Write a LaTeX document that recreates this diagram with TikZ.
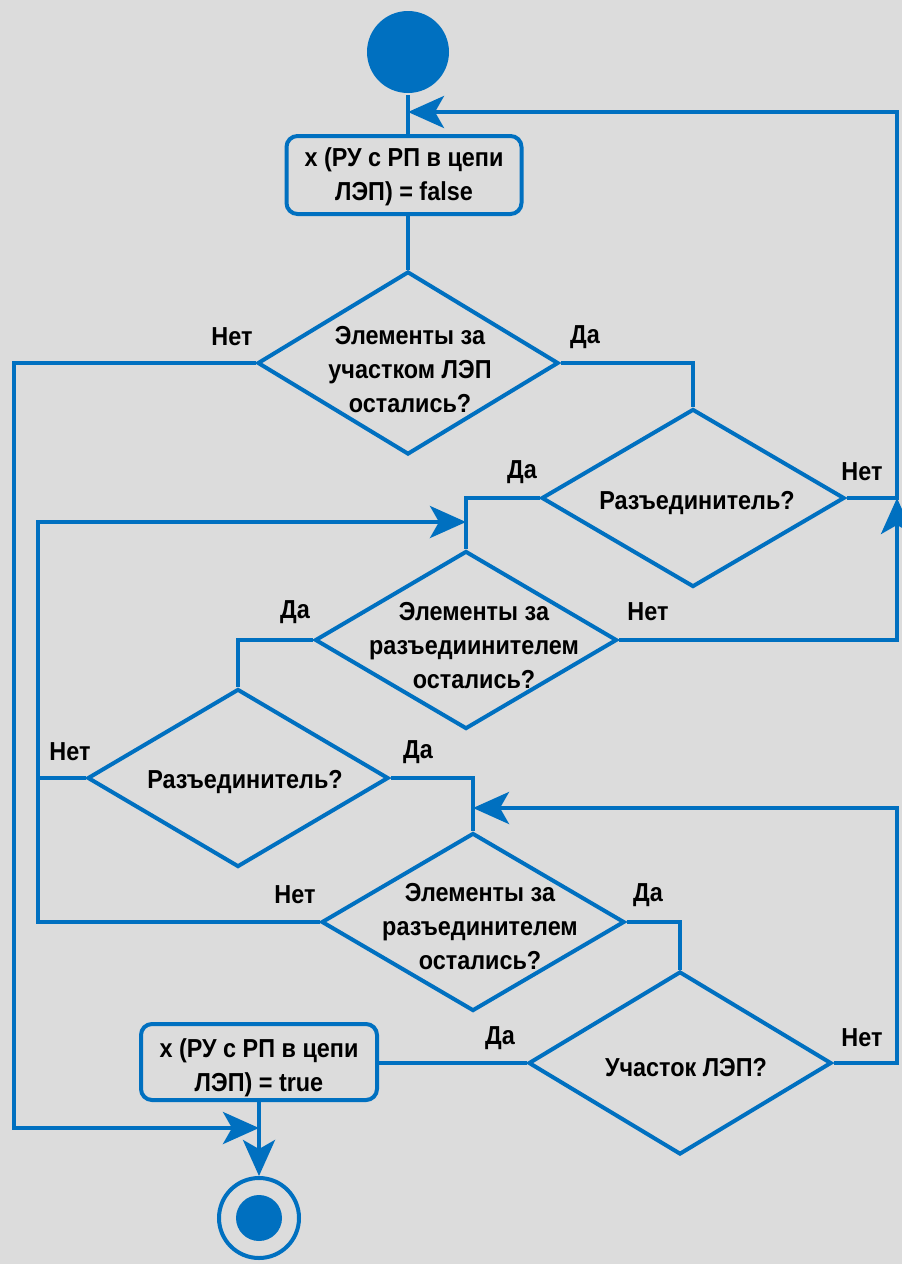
\documentclass[tikz,border=0pt]{standalone}
\usepackage{fontspec}
\setmainfont{Liberation Sans}[FakeStretch=0.9]
\usetikzlibrary{shapes.geometric,arrows.meta}
\definecolor{flowblue}{HTML}{0070C0}
\definecolor{paper}{HTML}{DCDCDC}
\begin{document}
\begin{tikzpicture}[x=1pt,y=-1pt,
  line width=4pt,
  every node/.style={font=\fontsize{26}{34}\selectfont\bfseries},
  decision/.style={draw=flowblue,diamond,inner sep=0pt},
  action/.style={draw=flowblue,rectangle,rounded corners=11pt,inner sep=0pt,
                 minimum width=235pt,minimum height=78pt},
  qtext/.style={align=center,inner sep=0pt},
  ans/.style={inner sep=0pt},
  link/.style={draw=flowblue},
  arr/.style={draw=flowblue,-{Stealth[length=36pt,width=32pt,inset=9pt]}}]

% paper background
\fill[paper] (0,0) rectangle (902,1264);
\useasboundingbox (0,0) rectangle (902,1264);

% start and end markers
\node[circle,fill=flowblue,minimum size=82pt,inner sep=0pt] (start) at (408,52) {};
\node[circle,draw=flowblue,fill=paper,minimum size=80pt,inner sep=0pt] (stop) at (259,1218) {};
\node[circle,fill=flowblue,minimum size=46pt,inner sep=0pt] (stopdot) at (259,1218) {};

% action boxes
\node[action] (init) at (404,175) {};
\node[qtext] at (404,177) {x (РУ с РП в цепи\\ЛЭП) = false};
\node[action,minimum width=236pt,minimum height=76pt] (done) at (259,1062) {};
\node[qtext] at (259,1068) {x (РУ с РП в цепи\\ЛЭП) = true};

% decisions
\node[decision,minimum width=301pt,minimum height=183pt] (d1) at (408,363) {};
\node[qtext] at (410,370) {Элементы за\\участком ЛЭП\\остались?};
\node[decision,minimum width=303pt,minimum height=178pt] (d2) at (693,498) {};
\node[qtext] at (697,503) {Разъединитель?};
\node[decision,minimum width=302pt,minimum height=178pt] (d3) at (466,640) {};
\node[qtext] at (474,646) {Элементы за\\разъедиинителем\\остались?};
\node[decision,minimum width=301pt,minimum height=178pt] (d4) at (238,778) {};
\node[qtext] at (245,782) {Разъединитель?};
\node[decision,minimum width=303pt,minimum height=178pt] (d5) at (473,922) {};
\node[qtext] at (480,927) {Элементы за\\разъединителем\\остались?};
\node[decision,minimum width=303pt,minimum height=183pt] (d6) at (680,1063) {};
\node[qtext] at (686,1068) {Участок ЛЭП?};

% branch labels
\node[ans] (n1) at (232,337) {Нет};
\node[ans] (y1) at (585,337) {Да};
\node[ans] (y2) at (522,472) {Да};
\node[ans] (n2) at (862,472) {Нет};
\node[ans] (y3) at (295,612) {Да};
\node[ans] (n3) at (648,612) {Нет};
\node[ans] (n4) at (70,752) {Нет};
\node[ans] (y4) at (418,752) {Да};
\node[ans] (n5) at (295,895) {Нет};
\node[ans] (y5) at (648,895) {Да};
\node[ans] (y6) at (500,1038) {Да};
\node[ans] (n6) at (862,1038) {Нет};

% routing points
\coordinate (rtop) at (897,112);
\coordinate (rmid) at (897,498);
\coordinate (rlow) at (897,640);
\coordinate (rback) at (897,808);
\coordinate (rbot) at (897,1063);
\coordinate (lin) at (38,522);
\coordinate (lout) at (14,363);
\coordinate (join) at (259,1128);

% main spine
\draw[link] (start.south) -- (start.south |- init.north);
\draw[link] (d1.north |- init.south) -- (d1.north);
\draw[link] (d1.east) -| (d2.north);
\draw[link] (d2.west) -| (d3.north);
\draw[link] (d3.west) -| (d4.north);
\draw[link] (d4.east) -| (d5.north);
\draw[link] (d5.east) -| (d6.north);
\draw[link] (d6.west) -- (d6.west -| done.east);
\draw[arr] (done.south) -- (stop.north);

% return loops on the right
\draw[arr] (d2.east) -- (rmid) -- (rtop) -- (start.south |- rtop);
\draw[arr] (d3.east) -- (rlow) -- (rmid);
\draw[arr] (d6.east) -- (rbot) -- (rback) -- (d5.north |- rback);

% inner loop on the left
\draw[arr] (d5.west) -- (d5.west -| lin) -- (lin) -- (d3.north |- lin);
\draw[link] (d4.west) -- (d4.west -| lin);

% outer exit on the left
\draw[arr] (d1.west) -- (lout) -- (lout |- join) -- (join);
\end{tikzpicture}
\end{document}
